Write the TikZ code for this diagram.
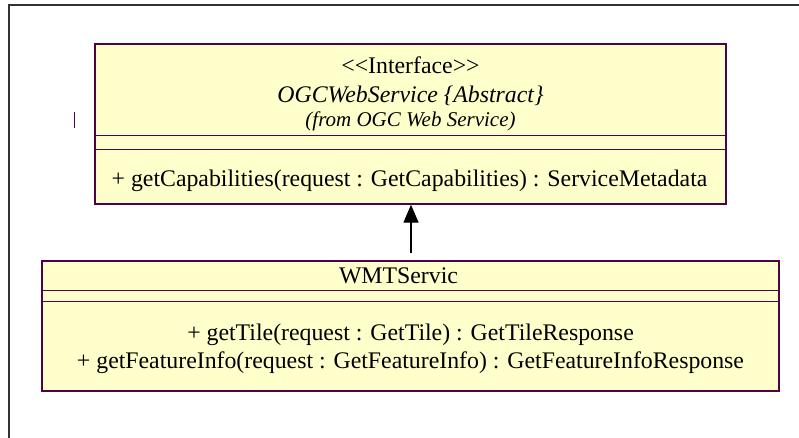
\documentclass[tikz,border=0pt]{standalone}
\usepackage{fontspec}
\newfontfamily\umlserif{Liberation Serif}
\usetikzlibrary{arrows.meta}
\definecolor{umlfill}{RGB}{255,255,204}
\definecolor{umlline}{RGB}{80,0,70}
\definecolor{framecol}{RGB}{50,50,50}
\begin{document}
\begin{tikzpicture}[x=1pt,y=-1pt,
  umlbox/.style={draw=umlline, fill=umlfill, line width=1.3pt, inner sep=0pt, rectangle},
  sepline/.style={draw=umlline, line width=1pt},
  lbl/.style={anchor=base, inner sep=0pt, font=\umlserif\fontsize{23.8}{28}\selectfont},
  ilbl/.style={anchor=base, inner sep=0pt, font=\umlserif\fontsize{23.8}{28}\selectfont\itshape},
  smalllbl/.style={anchor=base, inner sep=0pt, font=\umlserif\fontsize{21}{25}\selectfont\itshape},
  genarrow/.style={draw=black, line width=1.3pt, -{Triangle[length=18pt,width=15pt]}}
]
\useasboundingbox (0,0) rectangle (799,437);
\fill[white] (0,0) rectangle (799,437);
% frame
\draw[framecol, line width=2pt] (9,440) -- (9,5) -- (802,5);
% small mark
\draw[umlline, line width=1pt] (74,112) -- (74,128);

% interface box
\node[umlbox, minimum width=631pt, minimum height=160pt] (iface) at (410.5,124) {};
\draw[sepline] (95,135) -- (726,135);
\draw[sepline] (95,149) -- (726,149);
\node[lbl] (stereo) at (410.5,73) {{<}{<}Interface{>}{>}};
\node[ilbl] (iname) at (410.5,102) {OGCWebService \{Abstract\}};
\node[smalllbl] (ifrom) at (410.5,126) {(from OGC Web Service)};
\node[lbl] (imeth) at (409.5,186) {+ getCapabilities(request : GetCapabilities) : ServiceMetadata};

% class box
\node[umlbox, minimum width=737pt, minimum height=130pt] (wmts) at (410.5,326) {};
\draw[sepline] (42,290) -- (779,290);
\draw[sepline] (42,301) -- (779,301);
\node[lbl] (wname) at (398.5,283) {WMTServic};
\node[lbl] (m1) at (410.5,340) {+ getTile(request : GetTile) : GetTileResponse};
\node[lbl] (m2) at (410.5,368) {+ getFeatureInfo(request : GetFeatureInfo) : GetFeatureInfoResponse};

% generalization
\coordinate (astart) at (411,253);
\draw[genarrow] (astart) -- (iface.south -| astart);
\end{tikzpicture}
\end{document}
